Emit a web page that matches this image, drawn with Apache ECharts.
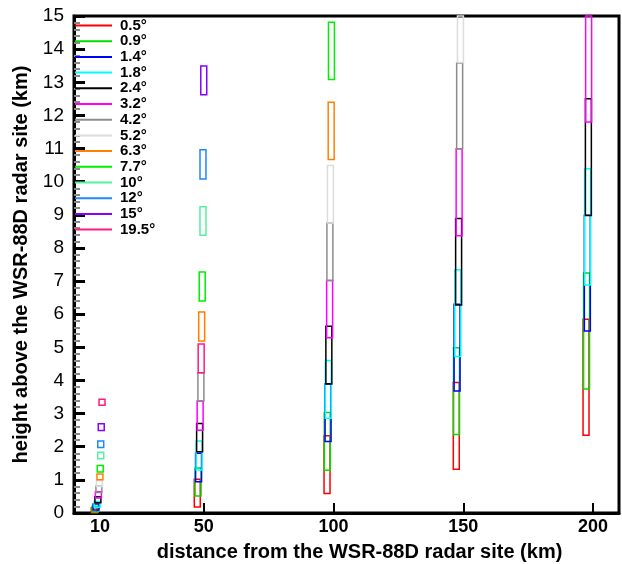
<!DOCTYPE html>
<html>
<head>
<meta charset="utf-8">
<script src="https://cdn.jsdelivr.net/npm/echarts@6/dist/echarts.min.js"></script>
<style>
html,body{margin:0;padding:0;background:#fff;}
#chart{width:622px;height:564px;}
</style>
</head>
<body>
<div id="chart"></div>
<script>
// Elevation angles (legend order)
const angles = ['0.5°','0.9°','1.4°','1.8°','2.4°','3.2°','4.2°','5.2°','6.3°','7.7°','10°','12°','15°','19.5°'];
const colors = ['#ff0000','#00dd00','#0000ff','#00ffff','#000000','#ff00ff','#8c8c8c','#dcdcdc','#ff8000','#00ee00','#55f0a0','#1e88ff','#8800ff','#ff1a80'];

// X tick labels
const xTickValues = [10, 50, 100, 150, 200];
const xTickLabels = ['10', '50', '100', '150', '200'];

// Beam boxes per angle: [distance (km, box centre), bottom height (km), top height (km)]
const b05  = [[7.8,0.0,0.16],[47.5,0.18,1.02],[97.5,0.59,2.33],[147.3,1.32,3.94],[197.3,2.35,5.85]];
const b09  = [[8.1,0.02,0.2],[47.8,0.51,1.36],[97.6,1.29,3.03],[147.4,2.37,4.99],[197.5,3.74,7.24]];
const b14  = [[8.5,0.09,0.27],[48.0,0.94,1.8],[97.9,2.16,3.9],[147.6,3.68,6.3],[197.8,5.49,8.99]];
const b18  = [[8.9,0.17,0.35],[48.2,1.3,2.17],[98.0,2.86,4.6],[147.9,4.72,7.34],[197.9,6.88,10.39]];
const b24  = [[9.2,0.31,0.49],[48.4,1.85,2.7],[98.2,3.89,5.64],[148.2,6.28,8.89],[198.2,8.98,12.5]];
const b32  = [[9.4,0.45,0.64],[48.6,2.5,3.38],[98.5,5.29,7.02],[148.4,8.37,10.99],[198.3,11.8,15.3]];
const b42  = [[9.6,0.62,0.81],[48.9,3.38,4.23],[98.6,7.02,8.75],[148.6,10.99,13.58]];
const b52  = [[9.8,0.8,0.98],[98.8,8.75,10.49],[148.9,13.6,16.3]];
const b63  = [[10.0,1.0,1.18],[49.2,5.19,6.07],[99.1,10.67,12.4]];
const b77  = [[10.1,1.24,1.43],[49.4,6.4,7.27],[99.2,13.08,14.81]];
const b10  = [[10.3,1.64,1.83],[49.7,8.38,9.24]];
const b12  = [[10.3,1.98,2.17],[49.7,10.08,10.96]];
const b15  = [[10.5,2.49,2.69],[50.0,12.62,13.49]];
const b195 = [[10.8,3.25,3.43],[49.0,4.23,5.1]];
const boxes = [b05,b09,b14,b18,b24,b32,b42,b52,b63,b77,b10,b12,b15,b195];

const HALF_W = 1.15; // km, half box width

const chart = echarts.init(document.getElementById('chart'), null, {renderer:'canvas'});
const fontFam = '"Liberation Sans", Arial, sans-serif';

const series = angles.map((name, i) => ({
  name: name,
  type: 'custom',
  data: boxes[i],
  itemStyle: {color: colors[i]},
  renderItem: function (params, api) {
    const x = api.value(0), lo = api.value(1), hi = api.value(2);
    const p1 = api.coord([x - HALF_W, hi]);
    const p2 = api.coord([x + HALF_W, lo]);
    const cs = params.coordSys;
    const rect = {x: p1[0], y: p1[1], width: p2[0] - p1[0], height: p2[1] - p1[1]};
    const clipped = echarts.graphic.clipRectByRect(rect, {x: cs.x, y: cs.y, width: cs.width, height: cs.height});
    if (!clipped) return;
    return {
      type: 'rect',
      shape: clipped,
      style: {fill: 'none', stroke: colors[i], lineWidth: 1.5}
    };
  }
}));

const option = {
  animation: false,
  backgroundColor: '#fff',
  grid: {left: 74, right: 3, top: 16, bottom: 51, show: true, borderColor: '#000', borderWidth: 3, backgroundColor: 'transparent', outerBoundsMode: 'none', containLabel: false},
  legend: {
    orient: 'vertical',
    left: 75, top: 18, padding: 0,
    itemWidth: 37, itemHeight: 2, itemGap: 0.7,
    icon: 'rect',
    data: angles.map((a, i) => ({name: a, itemStyle: {color: colors[i]}})),
    textStyle: {fontFamily: fontFam, fontWeight: 'bold', fontSize: 15, color: '#000', lineHeight: 15, padding: [0,0,0,3]},
    selectedMode: false
  },
  xAxis: {
    type: 'value', min: 0, max: 210,
    name: 'distance from the WSR-88D radar site (km)',
    nameLocation: 'middle', nameGap: 29,
    nameTextStyle: {fontFamily: fontFam, fontWeight: 'bold', fontSize: 20, color: '#000', padding: [0,0,0,26]},
    axisLine: {lineStyle: {color: '#000', width: 3}},
    axisTick: {inside: true, length: 10, lineStyle: {color: '#000', width: 2}, customValues: xTickValues.slice(1)},
    axisLabel: {customValues: xTickValues, formatter: v => xTickLabels[xTickValues.indexOf(v)], fontFamily: fontFam, fontWeight: 'bold', fontSize: 18, color: '#000', margin: 5},
    splitLine: {show: false}
  },
  yAxis: {
    type: 'value', min: 0, max: 15, interval: 1,
    name: 'height above the WSR-88D radar site (km)',
    nameLocation: 'middle', nameGap: 43,
    nameTextStyle: {fontFamily: fontFam, fontWeight: 'bold', fontSize: 20, color: '#000'},
    axisLine: {lineStyle: {color: '#000', width: 3}},
    axisTick: {inside: true, length: 11, lineStyle: {color: '#000', width: 3}},
    minorTick: {show: true, splitNumber: 5, length: 6, lineStyle: {color: '#888', width: 2}},
    axisLabel: {fontFamily: fontFam, fontSize: 19, color: '#000', margin: 10},
    splitLine: {show: false}
  },
  series: series
};
chart.setOption(option);
</script>
</body>
</html>
